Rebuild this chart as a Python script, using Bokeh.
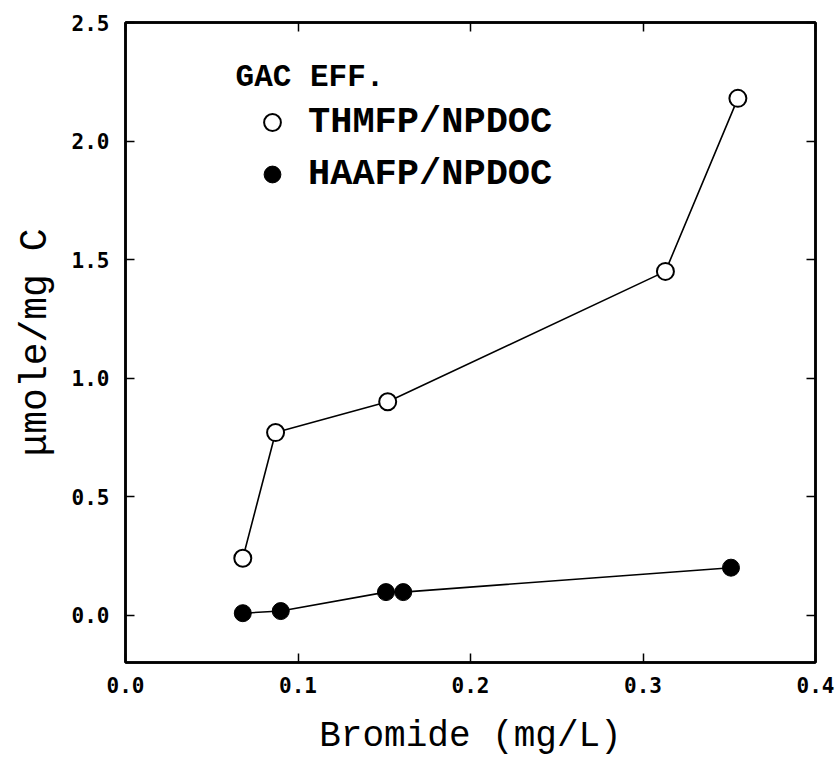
from bokeh.plotting import figure
from bokeh.models import (LinearAxis, Legend, LegendItem, Label, FixedTicker,
                          Range1d, CustomJSTickFormatter)
from bokeh.embed import file_html
from bokeh.resources import INLINE

# Data
thm_x = [0.068, 0.087, 0.152, 0.313, 0.355]
thm_y = [0.24, 0.77, 0.90, 1.45, 2.18]
haa_x = [0.068, 0.090, 0.151, 0.161, 0.351]
haa_y = [0.008, 0.017, 0.097, 0.097, 0.20]
x_ticks = [0.0, 0.1, 0.2, 0.3, 0.4]
y_ticks = [0.0, 0.5, 1.0, 1.5, 2.0, 2.5]
series_names = ["THMFP/NPDOC", "HAAFP/NPDOC"]
legend_title = "GAC EFF."

MONO = "Liberation Mono"
TICKF = "DejaVu Sans Mono"

p = figure(width=837, height=765, output_backend="svg", toolbar_location=None,
           x_range=Range1d(0.0, 0.4), y_range=Range1d(-0.2, 2.5),
           min_border_left=125, min_border_right=22, min_border_top=22,
           min_border_bottom=103, background_fill_color="white",
           border_fill_color="white")
p.grid.visible = False
p.outline_line_color = "black"
p.outline_line_width = 2.5

xa = p.xaxis[0]
ya = p.yaxis[0]
xa.ticker = FixedTicker(ticks=x_ticks)
ya.ticker = FixedTicker(ticks=y_ticks)
for ax in (xa, ya):
    ax.axis_line_color = "black"
    ax.axis_line_width = 2.5
    ax.major_tick_in = 9
    ax.major_tick_out = 0
    ax.major_tick_line_width = 1.5
    ax.minor_tick_line_color = None
    ax.major_label_text_font = TICKF
    ax.major_label_text_font_style = "bold"
    ax.major_label_text_font_size = "21px"
    ax.major_label_text_color = "black"
    ax.formatter = CustomJSTickFormatter(code="return tick.toFixed(1);")
xa.major_label_standoff = 14
ya.major_label_standoff = 16

xa.axis_label = "Bromide (mg/L)"
xa.axis_label_text_font = MONO
xa.axis_label_text_font_style = "normal"
xa.axis_label_text_font_size = "36px"
xa.axis_label_text_color = "black"
xa.axis_label_standoff = 20

ya.axis_label = "μmole/mg C"
ya.axis_label_text_font = MONO
ya.axis_label_text_font_style = "normal"
ya.axis_label_text_font_size = "38px"
ya.axis_label_text_color = "black"
ya.axis_label_standoff = 12

# top / right axes (ticks only)
top = LinearAxis(ticker=FixedTicker(ticks=x_ticks))
right = LinearAxis(ticker=FixedTicker(ticks=y_ticks))
for ax in (top, right):
    ax.axis_line_color = "black"
    ax.axis_line_width = 2.5
    ax.major_tick_in = 9
    ax.major_tick_out = 0
    ax.major_tick_line_width = 1.5
    ax.minor_tick_line_color = None
    ax.major_label_text_color = None
    ax.major_label_text_font_size = "1px"
    ax.major_label_standoff = 0
p.add_layout(top, "above")
p.add_layout(right, "right")

# series
p.line(thm_x, thm_y, line_color="black", line_width=1.6)
r_thm = p.scatter(thm_x, thm_y, marker="circle", size=17, fill_color="white",
                  line_color="black", line_width=2)
p.line(haa_x, haa_y, line_color="black", line_width=1.6)
r_haa = p.scatter(haa_x, haa_y, marker="circle", size=17, fill_color="black",
                  line_color="black", line_width=1)

legend = Legend(items=[LegendItem(label=series_names[0], renderers=[r_thm]),
                       LegendItem(label=series_names[1], renderers=[r_haa])],
                location=(126, 467), orientation="vertical",
                glyph_width=42, glyph_height=42, spacing=10,
                label_standoff=15, padding=0, margin=0,
                border_line_color=None, background_fill_alpha=0,
                label_text_font=MONO, label_text_font_style="bold",
                label_text_font_size="37px", label_text_color="black",
                label_text_baseline="middle", label_height=42)
p.add_layout(legend, "center")

p.add_layout(Label(x=0.0638, y=2.266, text=legend_title, text_font=MONO,
                   text_font_style="bold", text_font_size="31px",
                   text_color="black", text_baseline="middle", text_align="left"))

open("out.html", "w").write(file_html(p, INLINE))
